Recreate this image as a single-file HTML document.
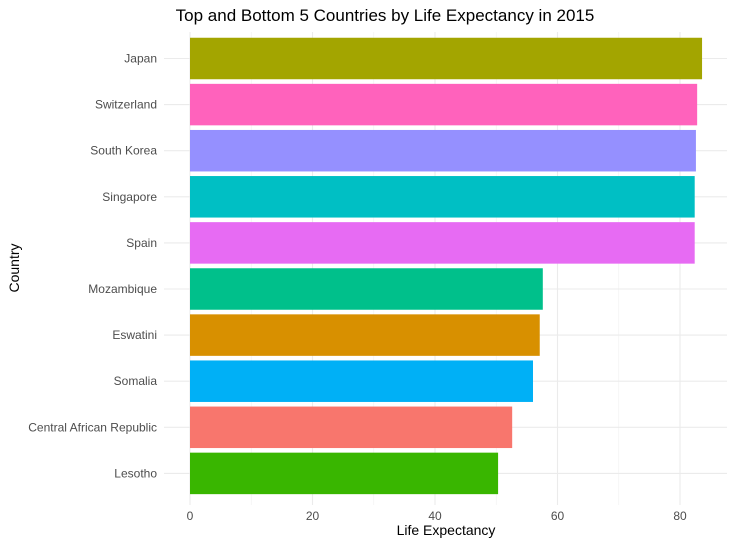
<!DOCTYPE html>
<html><head><meta charset="utf-8"><style>
html,body{margin:0;padding:0;background:#fff;}
svg{display:block;font-family:"Liberation Sans",Arial,sans-serif;}
</style></head><body>
<svg id="chart" width="735" height="546">
<text x="385" y="21" text-anchor="middle" font-size="17" fill="#000">Top and Bottom 5 Countries by Life Expectancy in 2015</text>
<g id="grid"></g><g id="bars"></g><g id="ylabels"></g><g id="xlabels"></g>
<text x="446" y="535" text-anchor="middle" font-size="14" fill="#000">Life Expectancy</text>
<text transform="translate(19,268) rotate(-90)" text-anchor="middle" font-size="14" fill="#000">Country</text>
</svg>
<script>
const countries=["Japan","Switzerland","South Korea","Singapore","Spain","Mozambique","Eswatini","Somalia","Central African Republic","Lesotho"];
const values=[83.6,82.8,82.6,82.4,82.4,57.6,57.1,56.0,52.6,50.3];
const colors=["#A3A500","#FF62BC","#9590FF","#00BFC4","#E76BF3","#00C08B","#D89000","#00B0F6","#F8766D","#39B600"];
const xTicks=[0,20,40,60,80];
const minorTicks=[10,30,50,70];
const NS="http://www.w3.org/2000/svg";
const x0=190,xs=6.125,pl=164,pr=727,pt=32,pb=505;
const y0=58.5,step=46.1,bh=41.5;
function xp(v){return x0+v*xs;}
function yp(i){return y0+i*step;}
function mk(t,a,p){const e=document.createElementNS(NS,t);for(const k in a)e.setAttribute(k,a[k]);p.appendChild(e);return e;}
const grid=document.getElementById('grid');
minorTicks.forEach(v=>{const l=mk('line',{x1:xp(v),x2:xp(v),y1:pt,y2:pb,stroke:'#f0f0f0','stroke-width':0.6},grid);

});
xTicks.forEach(v=>{const l=mk('line',{x1:xp(v),x2:xp(v),y1:pt,y2:pb,stroke:'#ebebeb','stroke-width':1.1},grid);


const t=mk('text',{x:xp(v),y:520,'text-anchor':'middle','font-size':12,fill:'#4d4d4d'},document.getElementById('xlabels'));t.textContent=v;

});
countries.forEach((c,i)=>{const l=mk('line',{x1:pl,x2:pr,y1:yp(i),y2:yp(i),stroke:'#ebebeb','stroke-width':1.1},grid);


const r=mk('rect',{x:xp(0),y:yp(i)-bh/2,width:xp(values[i])-xp(0),height:bh,fill:colors[i]},document.getElementById('bars'));


const t=mk('text',{x:157,y:yp(i)+4,'text-anchor':'end','font-size':12,fill:'#4d4d4d'},document.getElementById('ylabels'));t.textContent=c;

});
</script>
</body></html>
